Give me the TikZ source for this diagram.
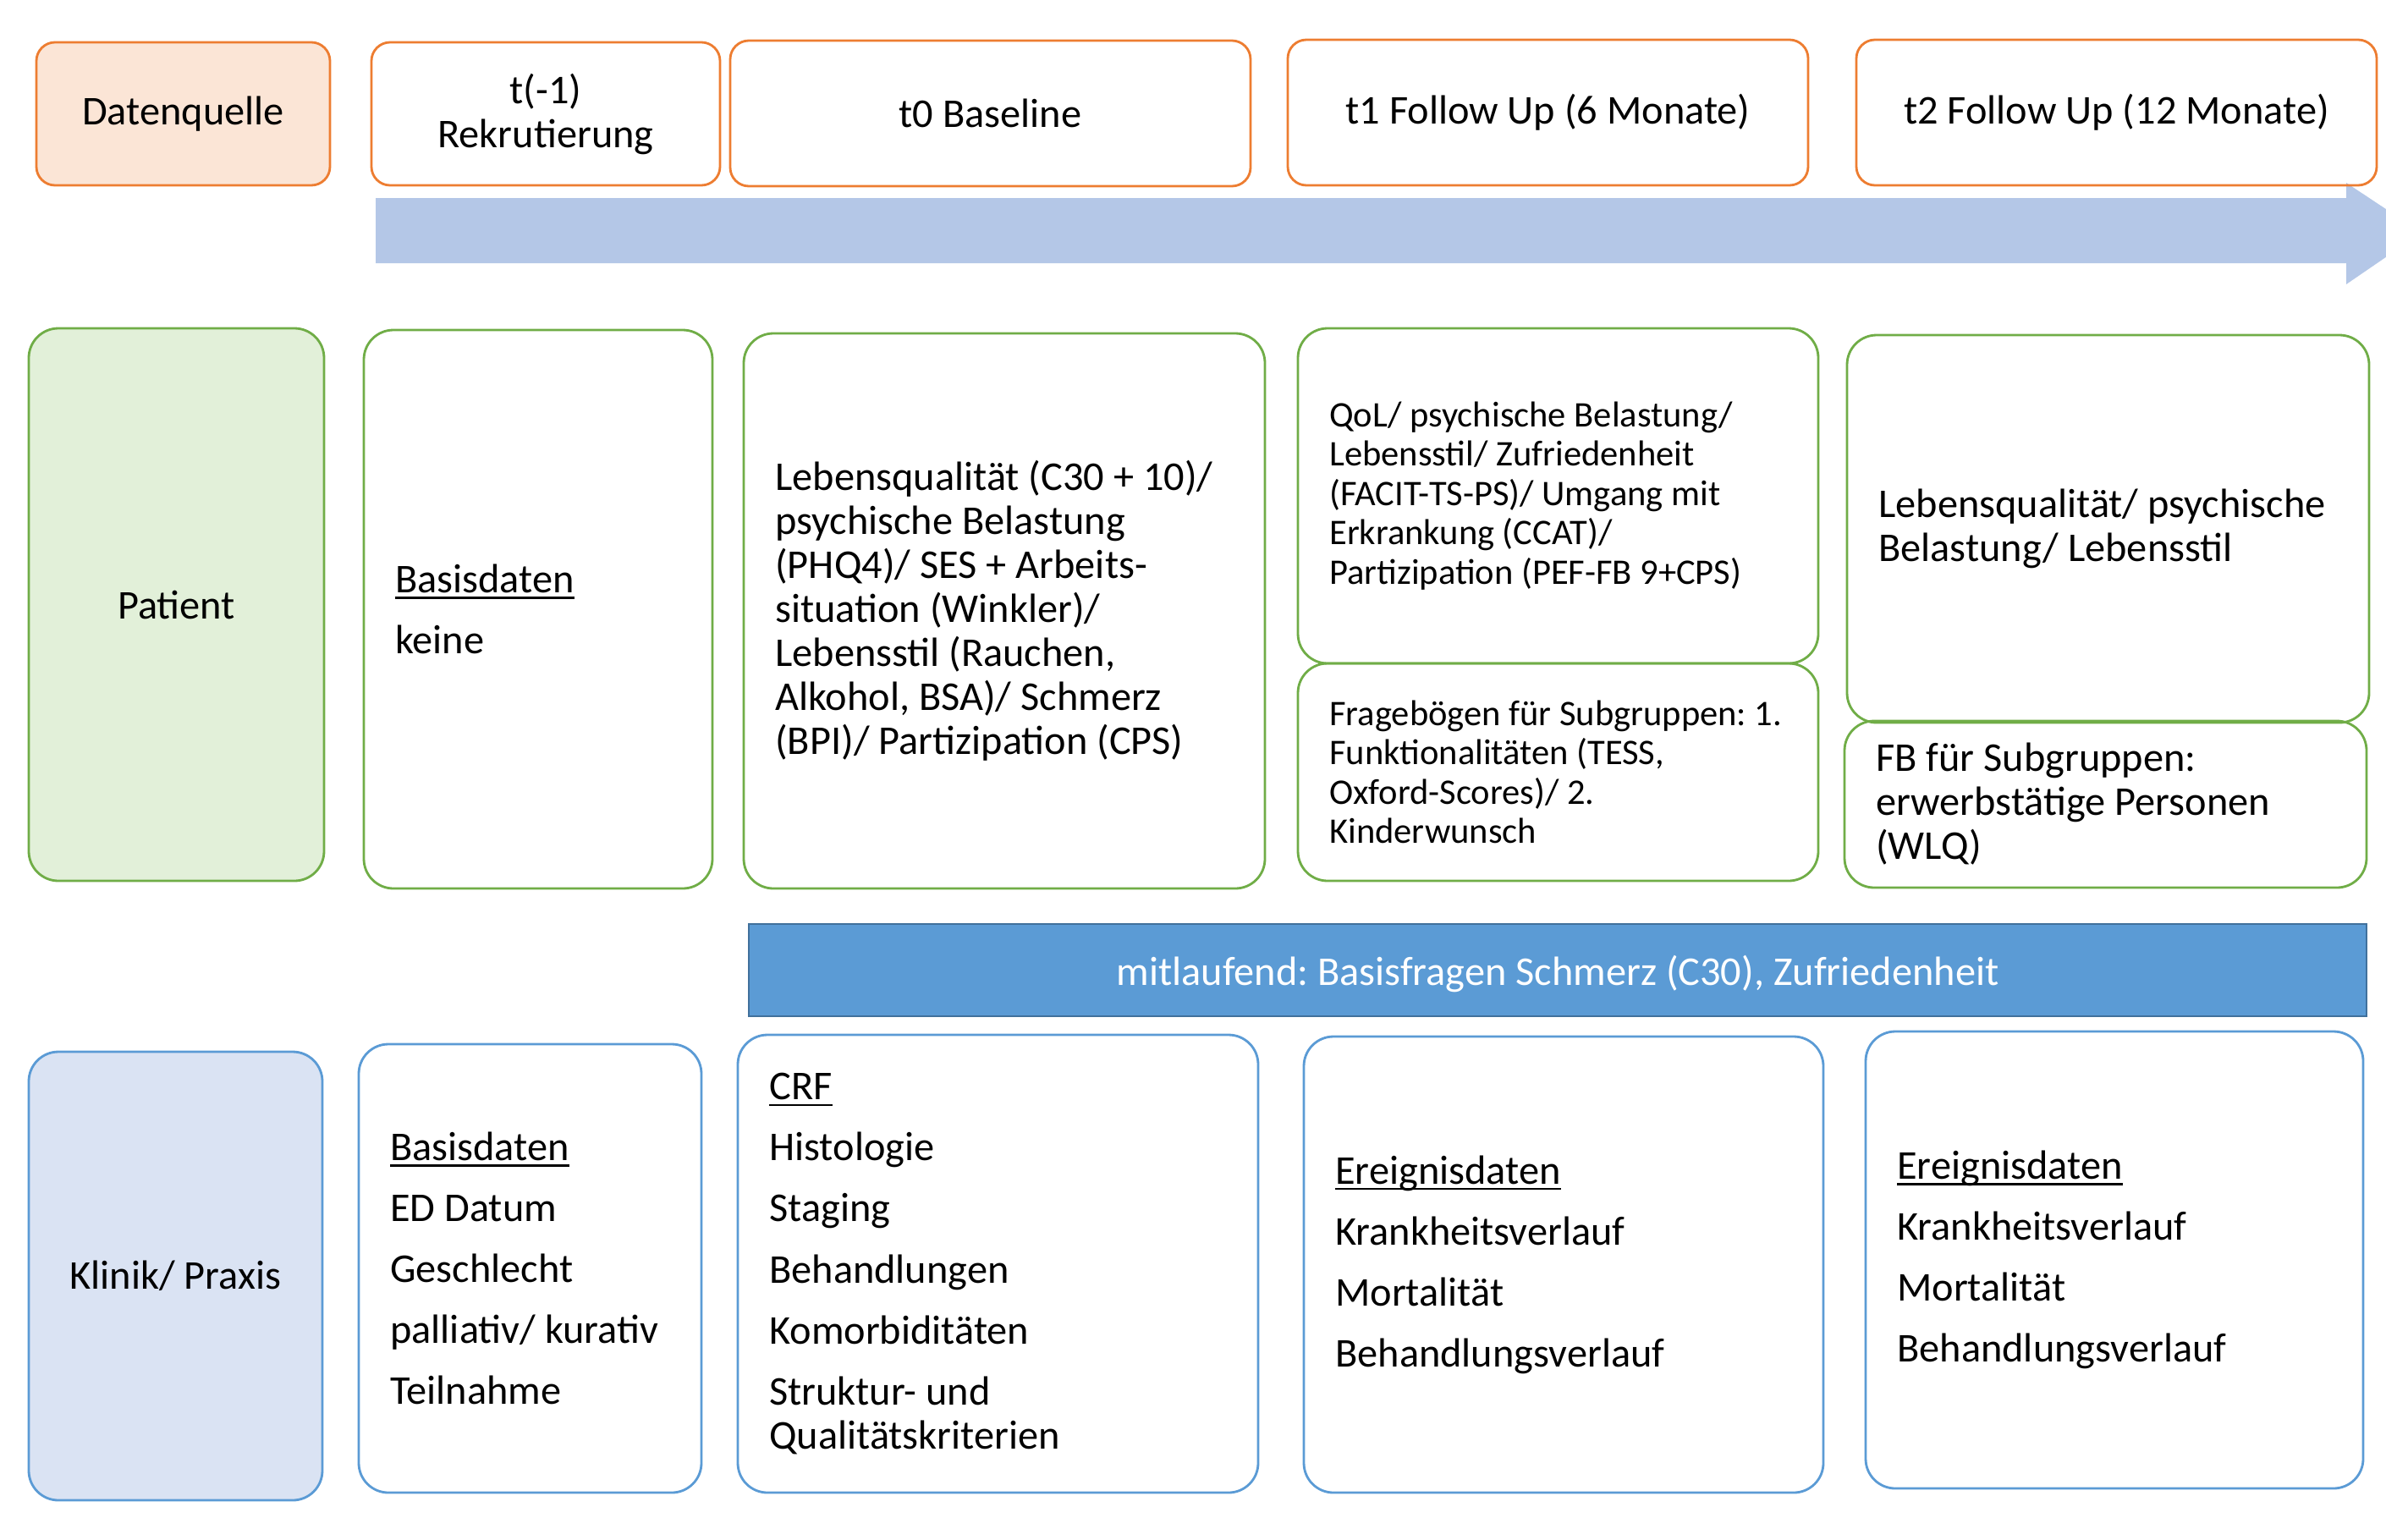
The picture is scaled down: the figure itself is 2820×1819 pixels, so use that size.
\documentclass[tikz,border=0pt]{standalone}
\usepackage{fontspec}
\setmainfont{Carlito}
\frenchspacing
\definecolor{headline}{HTML}{ED7D31}
\definecolor{headfill}{HTML}{FBE5D6}
\definecolor{patline}{HTML}{70AD47}
\definecolor{patfill}{HTML}{E2F0D9}
\definecolor{klinline}{HTML}{5B9BD5}
\definecolor{klinfill}{HTML}{DAE3F3}
\definecolor{timeblue}{HTML}{B4C7E7}
\definecolor{barline}{HTML}{41719C}
\newcommand{\ulined}[1]{\setbox0\hbox{#1}\rlap{\rule[-2.1pt]{\wd0}{0.75pt}}\box0}

\begin{document}
\begin{tikzpicture}[x=0.1mm,y=-0.1mm,
  box/.style={draw,line width=0.8pt,rounded corners=3.5mm,inner sep=0pt,
    align=center,font=\fontsize{13.75}{14.8}\selectfont},
  head/.style={box,draw=headline,rounded corners=2.2mm},
  pat/.style={box,draw=patline},
  klin/.style={box,draw=klinline},
  txt/.style={anchor=west,align=left,inner sep=0pt,xshift=3.8mm,font=\fontsize{13.75}{14.8}\selectfont},
  small/.style={font=\fontsize{12.1}{13.2}\selectfont}]
  \useasboundingbox (0,0) rectangle (2820,1819);
  \clip (0,0) rectangle (2820,1819);
  \fill[timeblue] (444,234) -- (2773,234) -- (2773,216) -- (2862,275) -- (2773,336) -- (2773,311) -- (444,311) -- cycle;

  \node[head,fill=headfill,minimum width=34.7mm,minimum height=16.9mm] (quelle) at (216.5,134.5) {Datenquelle};
  \node[head,minimum width=41.2mm,minimum height=16.9mm] (rekrut) at (645,134.5) {t(-1)\\Rekrutierung};
  \node[head,minimum width=61.5mm,minimum height=17.2mm] (base) at (1170.5,134) {t0 Baseline};
  \node[head,minimum width=61.5mm,minimum height=17.2mm] (fup1) at (1829.5,133) {t1 Follow Up (6 Monate)};
  \node[head,minimum width=61.5mm,minimum height=17.2mm] (fup2) at (2501.5,133) {t2 Follow Up (12 Monate)};

  \node[pat,fill=patfill,minimum width=34.9mm,minimum height=65.3mm] (patient) at (208.5,714.5) {Patient};
  \node[pat,minimum width=41.2mm,minimum height=66mm] (patrekrut) at (636,720) {};
  \node[txt] (patrekruttext) at (patrekrut.west) {\ulined{Basisdaten}\\[5.7pt]keine};
  \node[pat,minimum width=61.6mm,minimum height=65.6mm] (patbase) at (1187,722) {};
  \node[txt] (patbasetext) at (patbase.west)
    {Lebensqualität (C30 + 10)/\\psychische Belastung\\(PHQ4)/ SES + Arbeits-\\situation (Winkler)/\\Lebensstil (Rauchen,\\Alkohol, BSA)/ Schmerz\\(BPI)/ Partizipation (CPS)};
  \node[pat,minimum width=61.5mm,minimum height=39.6mm] (patfupa) at (1841.5,586) {};
  \node[txt,small] (patfupatext) at (patfupa.west)
    {QoL/ psychische Belastung/\\Lebensstil/ Zufriedenheit\\(FACIT-TS-PS)/ Umgang mit\\Erkrankung (CCAT)/\\Partizipation (PEF-FB 9+CPS)};
  \node[pat,minimum width=61.5mm,minimum height=25.7mm] (patfupb) at (1841.5,912.5) {};
  \node[txt,small] (patfupbtext) at (patfupb.west)
    {Fragebögen für Subgruppen: 1.\\Funktionalitäten (TESS,\\Oxford-Scores)/ 2.\\Kinderwunsch};
  \node[pat,minimum width=61.7mm,minimum height=45.8mm] (patfupc) at (2491.5,625) {};
  \node[txt] (patfupctext) at (patfupc.west)
    {Lebensqualität/ psychische\\Belastung/ Lebensstil};
  \node[pat,minimum width=61.7mm,minimum height=19.7mm] (patfupd) at (2488.5,950.5) {};
  \node[txt] (patfupdtext) at (patfupd.west)
    {FB für Subgruppen:\\erwerbstätige Personen\\(WLQ)};

  \node[box,draw=barline,fill=klinline,rounded corners=0pt,minimum width=191.2mm,minimum height=10.9mm] (mitlauf) at (1841,1146.5) {};
  \node[text=white,inner sep=0pt,font=\fontsize{13.75}{14.8}\selectfont] (mitlauftext) at ([yshift=-0.4mm]mitlauf.center)
    {mitlaufend: Basisfragen Schmerz (C30), Zufriedenheit};

  \node[klin,fill=klinfill,minimum width=34.7mm,minimum height=53mm] (klinik) at (207.5,1508) {Klinik/ Praxis};
  \node[klin,minimum width=40.5mm,minimum height=53mm] (klinrekrut) at (626.5,1499) {};
  \node[txt] (klinrekruttext) at (klinrekrut.west)
    {\ulined{Basisdaten}\\[5.7pt]ED Datum\\[5.7pt]Geschlecht\\[5.7pt]palliativ/ kurativ\\[5.7pt]Teilnahme};
  \node[klin,minimum width=61.5mm,minimum height=54.1mm] (klinbase) at (1179.5,1493.5) {};
  \node[txt] (klinbasetext) at (klinbase.west)
    {\ulined{CRF}\\[5.7pt]Histologie\\[5.7pt]Staging\\[5.7pt]Behandlungen\\[5.7pt]Komorbiditäten\\[5.7pt]Struktur- und\\Qualitätskriterien};
  \node[klin,minimum width=61.4mm,minimum height=53.9mm] (klinfupa) at (1848,1494.5) {};
  \node[txt] (klinfupatext) at (klinfupa.west)
    {\ulined{Ereignisdaten}\\[5.7pt]Krankheitsverlauf\\[5.7pt]Mortalität\\[5.7pt]Behandlungsverlauf};
  \node[klin,minimum width=58.8mm,minimum height=54mm] (klinfupb) at (2499,1489) {};
  \node[txt] (klinfupbtext) at (klinfupb.west)
    {\ulined{Ereignisdaten}\\[5.7pt]Krankheitsverlauf\\[5.7pt]Mortalität\\[5.7pt]Behandlungsverlauf};
\end{tikzpicture}
\end{document}
